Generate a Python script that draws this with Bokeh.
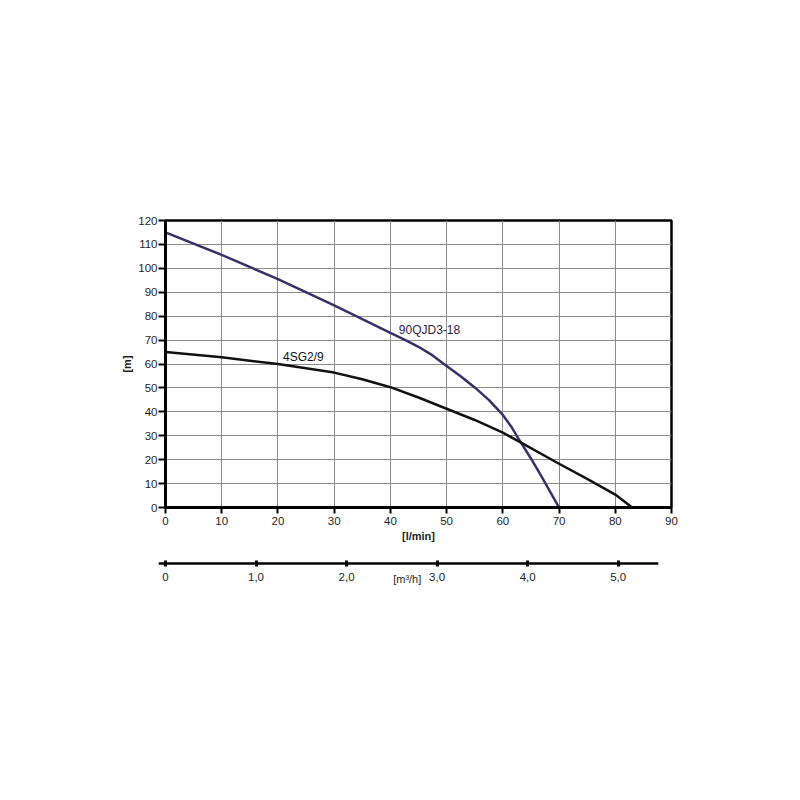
from bokeh.plotting import figure
from bokeh.layouts import column, row
from bokeh.models import (LinearAxis, Range1d, FixedTicker, Label,
                          CustomJSTickFormatter)
from bokeh.embed import file_html
from bokeh.resources import INLINE

# ---- data ----
flow_4sg = [0, 10, 20, 30, 35, 40, 45, 50, 55, 60, 63, 70, 75, 80, 83]
head_4sg = [65, 62.8, 60, 56.4, 53.6, 50.3, 46, 41.3, 36.6, 31.3, 27.4, 18.3, 12, 5.4, 0]

flow_qjd = [0, 10, 20, 30, 40, 42.5, 45, 47.5, 50, 52.5, 55, 57.5, 60, 61.5, 63, 65, 67, 70]
head_qjd = [115, 105.6, 95.5, 84.5, 73, 70.2, 67.2, 63.6, 59.2, 54.9, 50.2, 45, 38.7, 33.8, 28, 20.5, 12.5, 0]

x_ticks = [0, 10, 20, 30, 40, 50, 60, 70, 80, 90]
y_ticks = [0, 10, 20, 30, 40, 50, 60, 70, 80, 90, 100, 110, 120]
m3h_ticks = [0, 1, 2, 3, 4, 5]

name_4sg = "4SG2/9"
name_qjd = "90QJD3-18"

FONT = "Liberation Sans"
PURPLE = "#3b2f68"
TXT = "#1e1e1e"

# ---- main chart ----
p = figure(frame_width=506, frame_height=287,
           min_border_left=165, min_border_right=113,
           min_border_top=220, min_border_bottom=40,
           x_range=Range1d(0, 90), y_range=Range1d(0, 120),
           output_backend="svg", toolbar_location=None,
           x_axis_location=None, y_axis_location=None)
p.outline_line_color = "black"
p.outline_line_width = 2.5

yax = LinearAxis(ticker=FixedTicker(ticks=y_ticks), axis_label="[m]")
yax.axis_line_width = 3
yax.major_tick_out = 7
yax.major_tick_in = 0
yax.major_tick_line_width = 2
yax.minor_tick_out = 0
yax.minor_tick_in = 0
yax.major_label_standoff = 1
yax.major_label_text_font = FONT
yax.major_label_text_font_size = "11.5px"
yax.major_label_text_color = TXT
yax.axis_label_text_font = FONT
yax.axis_label_text_font_size = "11px"
yax.axis_label_text_font_style = "bold"
yax.axis_label_text_color = TXT
yax.axis_label_standoff = 2
p.add_layout(yax, "left")

xax = LinearAxis(ticker=FixedTicker(ticks=x_ticks), axis_label="[l/min]")
xax.axis_line_width = 3
xax.major_tick_out = 6
xax.major_tick_in = 0
xax.major_tick_line_width = 2
xax.minor_tick_out = 0
xax.minor_tick_in = 0
xax.major_label_standoff = 3
xax.major_label_text_font = FONT
xax.major_label_text_font_size = "11.5px"
xax.major_label_text_color = TXT
xax.axis_label_text_font = FONT
xax.axis_label_text_font_size = "11px"
xax.axis_label_text_font_style = "bold"
xax.axis_label_text_color = TXT
xax.axis_label_standoff = 2
p.add_layout(xax, "below")

p.xgrid.ticker = FixedTicker(ticks=x_ticks)
p.ygrid.ticker = FixedTicker(ticks=y_ticks)
p.grid.grid_line_color = "#8c8c8c"
p.grid.grid_line_width = 1

p.line(flow_qjd, head_qjd, line_color=PURPLE, line_width=2.5, line_join="round")
p.line(flow_4sg, head_4sg, line_color="#111111", line_width=2.5, line_join="round")

p.add_layout(Label(x=20.9, y=62.8, text=name_4sg, text_font=FONT,
                   text_font_size="12px", text_color="#111111",
                   text_align="left", text_baseline="middle"))
p.add_layout(Label(x=41.5, y=74.2, text=name_qjd, text_font=FONT,
                   text_font_size="12px", text_color="#2a2445",
                   text_align="left", text_baseline="middle"))

# ---- secondary flow scale (m3/h) ----
p2 = figure(frame_width=500, frame_height=40,
            min_border_left=158, min_border_right=126,
            min_border_top=0, min_border_bottom=0,
            x_range=Range1d(-0.077, 5.445), y_range=Range1d(0, 40),
            output_backend="svg", toolbar_location=None,
            x_axis_location=None, y_axis_location=None)
p2.outline_line_color = None
p2.grid.visible = False

m3ax = LinearAxis(ticker=FixedTicker(ticks=m3h_ticks), fixed_location=24)
m3ax.formatter = CustomJSTickFormatter(
    code="return tick == 0 ? '0' : tick.toFixed(1).replace('.', ',');")
m3ax.axis_line_width = 2.5
m3ax.major_tick_out = 3
m3ax.major_tick_in = 3
m3ax.major_tick_line_width = 3
m3ax.minor_tick_out = 0
m3ax.minor_tick_in = 0
m3ax.major_label_standoff = 6
m3ax.major_label_text_font = FONT
m3ax.major_label_text_font_size = "11.5px"
m3ax.major_label_text_color = TXT
p2.add_layout(m3ax, "below")

p2.add_layout(Label(x=2.67, y=9, text="[m³/h]", text_font=FONT,
                    text_font_size="11px", text_color=TXT,
                    text_align="center", text_baseline="middle"))

layout = column(p, row(p2), spacing=0)
open("out.html", "w").write(file_html(layout, INLINE))
